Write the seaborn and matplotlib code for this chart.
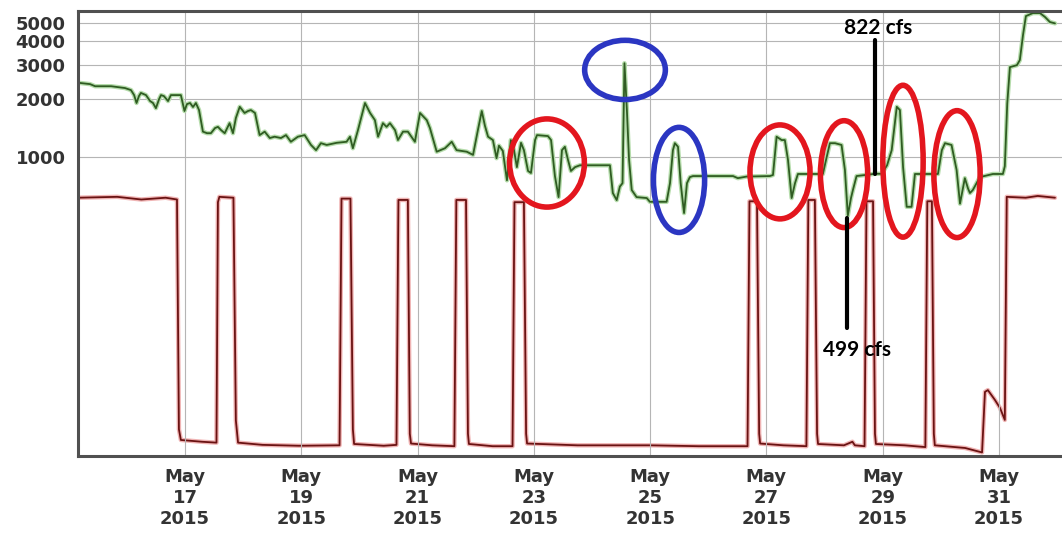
import numpy as np
import pandas as pd
import matplotlib
matplotlib.use("Agg")
import matplotlib.pyplot as plt
import matplotlib.dates as mdates
import matplotlib.patheffects as pe
from matplotlib.patches import Ellipse
import seaborn as sns

# ---------------- data (hours after 2015-05-15 00:00) ----------------
flow_hours = [3.8, 8.8, 10.9, 17.5, 23.2, 25.7, 27.0, 28.0, 29.0, 29.8, 31.9, 33.6, 34.8, 36.0,
              37.3, 38.1, 39.3, 41.0, 42.2, 46.3, 47.8, 48.8, 50.1, 51.3, 52.5, 53.8, 55.4, 57.1,
              58.7, 60.4, 61.6, 62.9, 64.4, 66.4, 67.8, 69.0, 70.6, 72.6, 74.0, 75.2, 76.9, 78.8,
              80.9, 83.0, 85.0, 87.6, 89.7, 91.7, 94.6, 97.4, 100.0, 102.1, 104.1, 106.5, 110.6,
              114.7, 116.1, 117.3, 119.4, 122.3, 124.4, 126.4, 127.7, 129.7, 131.2, 132.6, 134.7,
              135.9, 138.0, 140.0, 142.9, 145.0, 147.8, 149.1, 151.9, 155.3, 158.1, 160.1, 164.3,
              166.9, 168.9, 170.5, 171.8, 173.1, 175.1, 176.6, 177.6, 179.2, 180.9, 182.5, 183.8,
              185.0, 186.7, 187.9, 189.6, 190.8, 192.5, 193.3, 197.8, 199.1, 200.7, 202.2, 203.6,
              204.8, 206.1, 207.3, 209.0, 211.0, 223.4, 224.6, 226.2, 227.5, 228.6, 229.4, 230.4,
              231.3, 232.4, 234.4, 238.6, 239.9, 246.8, 248.2, 249.4, 250.2, 251.5, 252.6, 254.0,
              255.2, 256.4, 257.7, 274.2, 276.2, 279.8, 289.4, 290.7, 292.2, 294.3, 295.6, 296.9,
              298.4, 299.8, 301.0, 311.3, 312.6, 314.2, 316.3, 319.0, 320.4, 321.6, 322.9, 323.7,
              325.2, 332.8, 335.6, 337.8, 339.7, 341.8, 343.1, 344.4, 345.9, 347.9, 349.3, 358.8,
              360.4, 361.7, 364.4, 366.5, 367.9, 369.9, 371.2, 372.0, 373.2, 376.1, 381.5, 385.6,
              386.4, 387.4, 388.5, 391.4, 392.6, 393.9, 395.1, 398.0, 400.9, 403.0, 405.0, 407.1]
flow_cfs = [2440, 2400, 2340, 2340, 2290, 2235, 2105, 1915, 2080, 2160, 2105, 1960, 1915, 1800,
            2005, 2105, 2080, 1960, 2105, 2105, 1740, 1890, 1915, 1825, 1915, 1760, 1360, 1335,
            1335, 1420, 1440, 1385, 1335, 1505, 1335, 1600, 1830, 1700, 1740, 1760, 1700, 1305,
            1360, 1260, 1280, 1260, 1305, 1205, 1280, 1305, 1160, 1090, 1185, 1160, 1190,
            1205, 1280, 1115, 1385, 1915, 1700, 1560, 1280, 1505, 1440, 1505, 1385,
            1230, 1360, 1360, 1205, 1700, 1560, 1420, 1070, 1115, 1205, 1090, 1070,
            1030, 1385, 1740, 1460, 1280, 1230, 990, 1150, 1080, 760, 1230, 1090,
            890, 1190, 1090, 850, 830, 1230, 1305, 1290, 1230, 800, 622, 1090,
            1135, 970, 850, 890, 910, 910, 653, 600, 705, 735, 3080, 1760,
            970, 677, 622, 615, 588, 588, 735, 1090, 1185, 1135, 735, 514,
            735, 790, 800, 800, 780, 795, 800, 810, 1280, 1230, 1230, 970,
            615, 735, 820, 820, 970, 1185, 1185, 1160, 860, 499, 615, 677,
            800, 822, 822, 910, 1090, 1830, 1760, 890, 554, 554, 820, 820,
            1090, 1185, 1160, 860, 575, 780, 690, 653, 677, 790, 820, 820,
            900, 1900, 2940, 3010, 3200, 4310, 5410, 5610, 5610, 5350, 5040, 4960]

stage_hours = [3.8, 20, 30, 40, 44.7, 45.5, 46.3, 55, 61.0, 61.6, 62.2, 68.0, 69.0, 69.9, 80, 95,
               111.8, 112.6, 116.3, 117.3, 117.8, 130, 135.3, 136.1, 140.0, 140.8, 141.3, 150,
               159.2, 160.0, 164.0, 164.8, 165.2, 175, 183.2, 184.0, 187.9, 188.8, 189.2, 210,
               240, 260, 280.2, 281.0, 284.1, 285.0, 285.4, 295, 304.5, 305.3, 308.0, 308.9,
               309.3, 320, 323.5, 324.5, 328.5, 329.3, 332.0, 332.8, 333.2, 345, 353.6, 354.4,
               356.3, 357.1, 357.5, 370, 377.0, 378.2, 379.4, 382.3, 384.4, 386.4, 387.2, 395,
               400, 407.1]
stage_ft = [5.80, 5.82, 5.76, 5.80, 5.76, 0.6, 0.36, 0.32, 0.30, 5.70, 5.82, 5.80, 0.8, 0.30, 0.25,
            0.23, 0.24, 5.78, 5.78, 0.6, 0.27, 0.23, 0.25, 5.75, 5.75, 0.5, 0.28, 0.24,
            0.22, 5.75, 5.75, 0.5, 0.27, 0.22, 0.22, 5.70, 5.70, 0.5, 0.28, 0.24,
            0.24, 0.22, 0.22, 5.72, 5.72, 0.5, 0.28, 0.24, 0.22, 5.75, 5.75, 0.5,
            0.27, 0.24, 0.32, 0.24, 0.22, 5.72, 5.72, 0.5, 0.27, 0.24, 0.20, 5.72,
            5.72, 0.5, 0.24, 0.18, 0.08, 1.44, 1.48, 1.26, 1.08, 0.81, 5.82, 5.80,
            5.84, 5.80]

y_ticks = [1000, 2000, 3000, 4000, 5000]
x_tick_days = ["2015-05-17", "2015-05-19", "2015-05-21", "2015-05-23",
               "2015-05-25", "2015-05-27", "2015-05-29", "2015-05-31"]

# annotation values (hours, cfs)
hi_label, hi_hour, hi_cfs, hi_top = "822 cfs", 332.8, 822, 4060
lo_label, lo_hour, lo_cfs, lo_bottom = "499 cfs", 321.2, 484, 130

# ---------------- figure ----------------
sns.set_style("white")
plt.rcParams["font.family"] = ["DejaVu Sans"]

start = pd.Timestamp("2015-05-15")
flow = pd.DataFrame({"time": start + pd.to_timedelta(flow_hours, unit="h"), "cfs": flow_cfs})
stage = pd.DataFrame({"time": start + pd.to_timedelta(stage_hours, unit="h"), "ft": stage_ft})

fig = plt.figure(figsize=(10.62, 5.37), dpi=100)
ax = fig.add_axes([78 / 1062, 1 - 456 / 537, 984 / 1062, 445.3 / 537])
ax2 = ax.twinx()

sns.lineplot(data=stage, x="time", y="ft", ax=ax2, color="#6a1212", lw=1.3,
             estimator=None, sort=False,
             path_effects=[pe.Stroke(linewidth=3.2, foreground="#f0b4b4"), pe.Normal()])
sns.lineplot(data=flow, x="time", y="cfs", ax=ax, color="#2f5c22", lw=1.3,
             estimator=None, sort=False,
             path_effects=[pe.Stroke(linewidth=3.2, foreground="#b5dcab"), pe.Normal()])

ax.set_zorder(ax2.get_zorder() + 1)
ax.patch.set_visible(False)

ax.set_yscale("log")
ax.set_ylim(28.2, 5770)
ax2.set_ylim(0, 10)
ax.set_xlim(start + pd.Timedelta(hours=3.84), start + pd.Timedelta(hours=410.0))

ax.yaxis.set_major_locator(matplotlib.ticker.FixedLocator(y_ticks))
ax.yaxis.set_minor_locator(matplotlib.ticker.NullLocator())
ax.set_yticklabels([str(v) for v in y_ticks])
ax.set_xticks(pd.to_datetime(x_tick_days))
ax.xaxis.set_major_formatter(mdates.DateFormatter("%b\n%d\n%Y"))

ax.tick_params(axis="both", length=0, labelsize=13, labelcolor="#333333")
ax.tick_params(axis="y", pad=9)
ax.tick_params(axis="x", pad=9)
for lab in ax.get_xticklabels() + ax.get_yticklabels():
    lab.set_fontweight("bold")
for lab in ax.get_xticklabels():
    lab.set_horizontalalignment("center")
    lab.set_multialignment("center")

ax.grid(True, color="#b5b5b5", lw=0.8)
ax.set_xlabel("")
ax.set_ylabel("")
ax2.set_ylabel("")
ax2.set_yticks([])
for sp in ax2.spines.values():
    sp.set_visible(False)
for name, sp in ax.spines.items():
    sp.set_color("#505050")
    sp.set_linewidth(2.2)
ax.spines["right"].set_visible(False)

# ellipses (axes-fraction centre, width, height)
ellipses = [
    (0.4766, 0.658, 0.076, 0.198, "#e3161e"),
    (0.5559, 0.867, 0.082, 0.133, "#2b36c2"),
    (0.6108, 0.620, 0.052, 0.236, "#2b36c2"),
    (0.7134, 0.638, 0.061, 0.211, "#e3161e"),
    (0.7785, 0.633, 0.048, 0.240, "#e3161e"),
    (0.8384, 0.662, 0.041, 0.341, "#e3161e"),
    (0.8933, 0.633, 0.047, 0.285, "#e3161e"),
]
for cx, cy, w, h, c in ellipses:
    ax.add_patch(Ellipse((cx, cy), w, h, transform=ax.transAxes, fill=False,
                         edgecolor=c, lw=4.0, zorder=5))

hi_t = start + pd.Timedelta(hours=hi_hour)
lo_t = start + pd.Timedelta(hours=lo_hour)
ax.plot([hi_t, hi_t], [hi_cfs, hi_top], color="black", lw=3, zorder=6)
ax.plot([lo_t, lo_t], [lo_cfs, lo_bottom], color="black", lw=3, zorder=6)
ax.text(start + pd.Timedelta(hours=hi_hour + 1.2), 4700, hi_label, ha="center", va="center",
        fontsize=15, fontweight="bold", family=["Lato", "DejaVu Sans"], color="black", zorder=7)
ax.text(start + pd.Timedelta(hours=lo_hour + 4.0), 100, lo_label, ha="center", va="center",
        fontsize=15, fontweight="bold", family=["Lato", "DejaVu Sans"], color="black", zorder=7)

fig.savefig("out.png", dpi=100, facecolor="white")
